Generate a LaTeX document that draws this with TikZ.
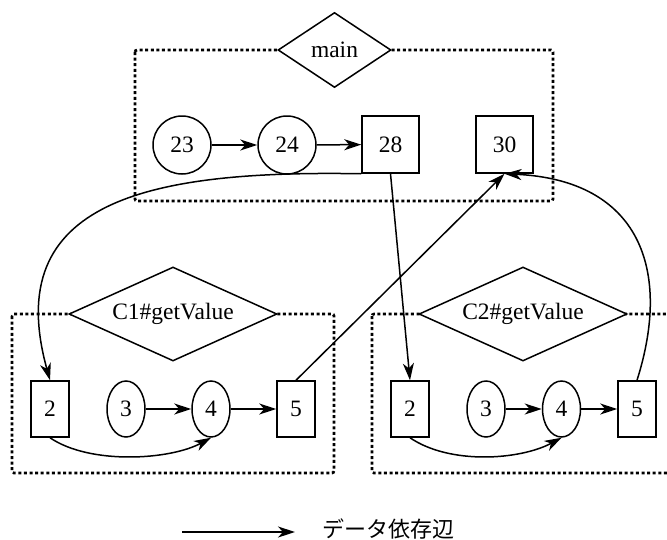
\documentclass[tikz,border=0pt]{standalone}
\usepackage{fontspec}
\setmainfont{Liberation Serif}
\newfontfamily\jpfont{Noto Sans CJK JP}
\usetikzlibrary{shapes.geometric,arrows.meta}

\tikzset{
  every node/.style={font=\fontsize{23.5}{28}\selectfont, inner sep=0pt},
  base/.style={line width=1.5pt},
  flow/.style={base, -{Stealth[length=17pt,width=11pt,inset=5pt]}},
  scopebox/.style={line width=2.7pt, dash pattern=on 3pt off 2.6pt, rounded corners=2pt},
  fname/.style={base, draw, diamond, fill=white},
  stmtbox/.style={base, draw, rectangle},
  stmtcirc/.style={base, draw, circle, minimum size=58pt},
  stmtoval/.style={base, draw, ellipse, minimum width=38pt, minimum height=56pt},
}

\begin{document}
\begin{tikzpicture}[x=1pt, y=-1pt]
  \useasboundingbox (0,0) rectangle (667,539);
  \clip (0,0) rectangle (667,539);

  % method scopes
  \draw[scopebox] (135,50) rectangle (553,201);
  \draw[scopebox] (12,314) rectangle (334,473);
  \draw[scopebox] (372,314) rectangle (690,473);

  % method names
  \node[fname, aspect=1.5, minimum width=113pt, minimum height=75pt] (main) at (334.5,50) {main};
  \node[fname, aspect=2.6, minimum width=208pt, minimum height=94pt] (c1) at (173,314) {C1\#getValue};
  \node[fname, aspect=2.6, minimum width=208pt, minimum height=94pt] (c2) at (523,314) {C2\#getValue};

  % main
  \node[stmtcirc] (m23) at (182,145) {23};
  \node[stmtcirc] (m24) at (287,145) {24};
  \node[stmtbox, minimum width=57pt, minimum height=57pt] (m28) at (390.5,144.5) {28};
  \node[stmtbox, minimum width=57pt, minimum height=57pt] (m30) at (504.5,144.5) {30};

  % C1#getValue
  \node[stmtbox, minimum width=38pt, minimum height=56pt] (a2) at (50,409) {2};
  \node[stmtoval] (a3) at (126,409) {3};
  \node[stmtoval] (a4) at (211,409) {4};
  \node[stmtbox, minimum width=38pt, minimum height=56pt] (a5) at (296,409) {5};

  % C2#getValue
  \node[stmtbox, minimum width=38pt, minimum height=56pt] (b2) at (410,409) {2};
  \node[stmtoval] (b3) at (486,409) {3};
  \node[stmtoval] (b4) at (561.5,409) {4};
  \node[stmtbox, minimum width=38pt, minimum height=56pt] (b5) at (637,409) {5};

  % dependences inside main
  \draw[flow] (m23) -- (m24);
  \draw[flow] (m24) -- (m28);

  % dependences inside C1#getValue
  \draw[flow] (a3) -- (a4);
  \draw[flow] (a4) -- (a5);
  \draw[flow] (a2.south) .. controls (90,465) and (170,460) .. (a4.south);

  % dependences inside C2#getValue
  \draw[flow] (b3) -- (b4);
  \draw[flow] (b4) -- (b5);
  \draw[flow] (b2.south) .. controls (450,465) and (520,460) .. (b4.south);

  % calls and returns
  \draw[flow] (m28.south west) .. controls (150,170) and (0,200) .. (a2.north);
  \draw[flow] (m28.south) -- (b2.north);
  \draw[flow] (a5.north) -- (m30.south);
  \draw[flow] (b5.north) .. controls (672,270) and (640,180) .. (m30.south);

  % legend
  \coordinate (lgA) at (182,532);
  \coordinate (lgB) at (295,532);
  \draw[flow] (lgA) -- (lgB);
  \node[font=\jpfont\fontsize{22}{26}\selectfont, anchor=west] (lgT) at (322,529) {データ依存辺};
\end{tikzpicture}
\end{document}
